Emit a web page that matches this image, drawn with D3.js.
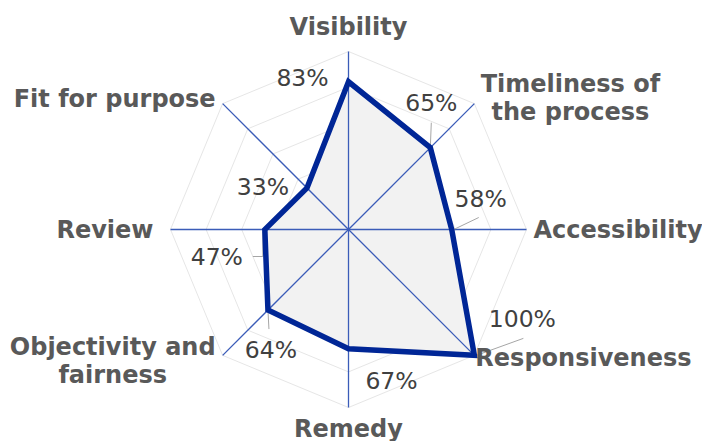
<!DOCTYPE html>
<html>
<head>
<meta charset="utf-8">
<script src="https://cdn.jsdelivr.net/npm/d3@7"></script>
<style>
  html, body { margin: 0; padding: 0; background: #fff; }
  svg { display: block; }
</style>
</head>
<body>
<svg id="chart" width="702" height="441"></svg>
<script>
// Radar chart: scores per service dimension
const categories = [
  ["Visibility"],
  ["Timeliness of", "the process"],
  ["Accessibility"],
  ["Responsiveness"],
  ["Remedy"],
  ["Objectivity and", "fairness"],
  ["Review"],
  ["Fit for purpose"]
];
const values = [0.83, 0.65, 0.58, 1.00, 0.67, 0.64, 0.47, 0.33];
const gridLevels = [0.2, 0.4, 0.6, 0.8, 1.0];

// Value label placement relative to its point: [dx, dy]; leader start relative to the label: [lx, ly] or null
const labelOffsets = [
  [-46, -4, null],
  [1, -45, [0, 20]],
  [29, -31, [-2, 19]],
  [48, -36, [1, 19]],
  [43, 32, null],
  [3, 40, [-2, -21]],
  [-48, 27, [36, 0]],
  [-44, -1, null]
];
// Small nudges for the category captions: [dx, dy]
const captionNudge = [
  [0, -4], [-1, -6], [0, 0], [-6, 3], [0, 0], [0, 6], [-10, 0], [0, -5]
];

const svg = d3.select("#chart");
const cx = 348.5, cy = 229.5, R = 178;
const n = categories.length;

const r = d3.scaleLinear().domain([0, 1]).range([0, R]);
const angle = d3.scaleLinear().domain([0, n]).range([0, 2 * Math.PI]);
const px = (i, v) => cx + r(v) * Math.sin(angle(i));
const py = (i, v) => cy - r(v) * Math.cos(angle(i));

const g = svg.append("g");

// Octagonal grid rings
const ringLine = d3.line();
g.selectAll("path.ring")
  .data(gridLevels)
  .join("path")
  .attr("class", "ring")
  .attr("d", lv => ringLine(d3.range(n).map(i => [px(i, lv), py(i, lv)])) + "Z")
  .attr("fill", "none")
  .attr("stroke", "#e6e6e6")
  .attr("stroke-width", 1);

// Filled data area
const area = d3.lineRadial()
  .angle((d, i) => angle(i))
  .radius(d => r(d))
  .curve(d3.curveLinearClosed);

g.append("path")
  .attr("transform", `translate(${cx},${cy})`)
  .attr("d", area(values))
  .attr("fill", "#f2f2f2")
  .attr("stroke", "none");

// Spokes
g.selectAll("line.spoke")
  .data(d3.range(n))
  .join("line")
  .attr("class", "spoke")
  .attr("x1", cx).attr("y1", cy)
  .attr("x2", i => px(i, 1)).attr("y2", i => py(i, 1))
  .attr("stroke", "#3b5cb8")
  .attr("stroke-width", 1.3);

// Leader lines from value labels to points
const leaders = values.map((v, i) => ({ i, v, o: labelOffsets[i] })).filter(d => d.o[2]);
g.selectAll("path.leader")
  .data(leaders)
  .join("path")
  .attr("class", "leader")
  .attr("d", d => {
    const x0 = px(d.i, d.v), y0 = py(d.i, d.v);
    const sx = x0 + d.o[0] + d.o[2][0], sy = y0 + d.o[1] + d.o[2][1];
    if (d.o[2][1] === 0 && sx < x0) {
      // horizontal run, then straight up to the point
      return `M${sx},${sy}H${x0 - 2}V${y0 + 2}`;
    }
    return `M${sx},${sy}L${x0 + (sx > x0 + 6 ? 2 : 0)},${y0}`;
  })
  .attr("fill", "none")
  .attr("stroke", "#a6a6a6")
  .attr("stroke-width", 1);

// Data outline
g.append("path")
  .attr("transform", `translate(${cx},${cy})`)
  .attr("d", area(values))
  .attr("fill", "none")
  .attr("stroke", "#002696")
  .attr("stroke-width", 5.5)
  .attr("stroke-linejoin", "miter");

// Value labels
g.selectAll("text.value")
  .data(values)
  .join("text")
  .attr("class", "value")
  .attr("x", (v, i) => px(i, v) + labelOffsets[i][0])
  .attr("y", (v, i) => py(i, v) + labelOffsets[i][1])
  .attr("text-anchor", "middle")
  .attr("dominant-baseline", "central")
  .attr("font-family", "DejaVu Sans, Verdana, sans-serif")
  .attr("font-size", 23.5)
  .attr("fill", "#404040")
  .text(d3.format(".0%"));

// Category labels around the outside
const gap = 7;
const catG = g.selectAll("g.cat")
  .data(categories)
  .join("g")
  .attr("class", "cat")
  .each(function (lines, i) {
    const a = angle(i);
    const s = Math.sin(a), c = Math.cos(a);
    const ex = px(i, 1), ey = py(i, 1);
    const anchor = s > 0.1 ? "start" : s < -0.1 ? "end" : "middle";
    const lh = 28;
    const blockH = lines.length * lh;
    const x = ex + (s > 0.1 ? gap : s < -0.1 ? -gap : 0) + captionNudge[i][0];
    let yTop;
    if (Math.abs(s) < 0.1) {
      yTop = c > 0 ? ey - gap - blockH : ey + gap;
    } else {
      yTop = ey - blockH / 2;
    }
    yTop += captionNudge[i][1];
    const t = d3.select(this).append("text")
      .attr("text-anchor", anchor)
      .attr("font-family", "DejaVu Sans, Verdana, sans-serif")
      .attr("font-weight", "bold")
      .attr("font-size", 24)
      .attr("fill", "#595959");
    lines.forEach((ln, k) => {
      t.append("tspan")
        .attr("x", x)
        .attr("y", yTop + k * lh + lh / 2)
        .attr("dominant-baseline", "central")
        .text(ln);
    });
  });

// Multi-line labels are centred on their own block
catG.filter(d => d.length > 1).select("text").each(function () {
  const bb = this.getBBox();
  const mid = bb.x + bb.width / 2;
  d3.select(this).attr("text-anchor", "middle").selectAll("tspan").attr("x", mid);
});
</script>
</body>
</html>
